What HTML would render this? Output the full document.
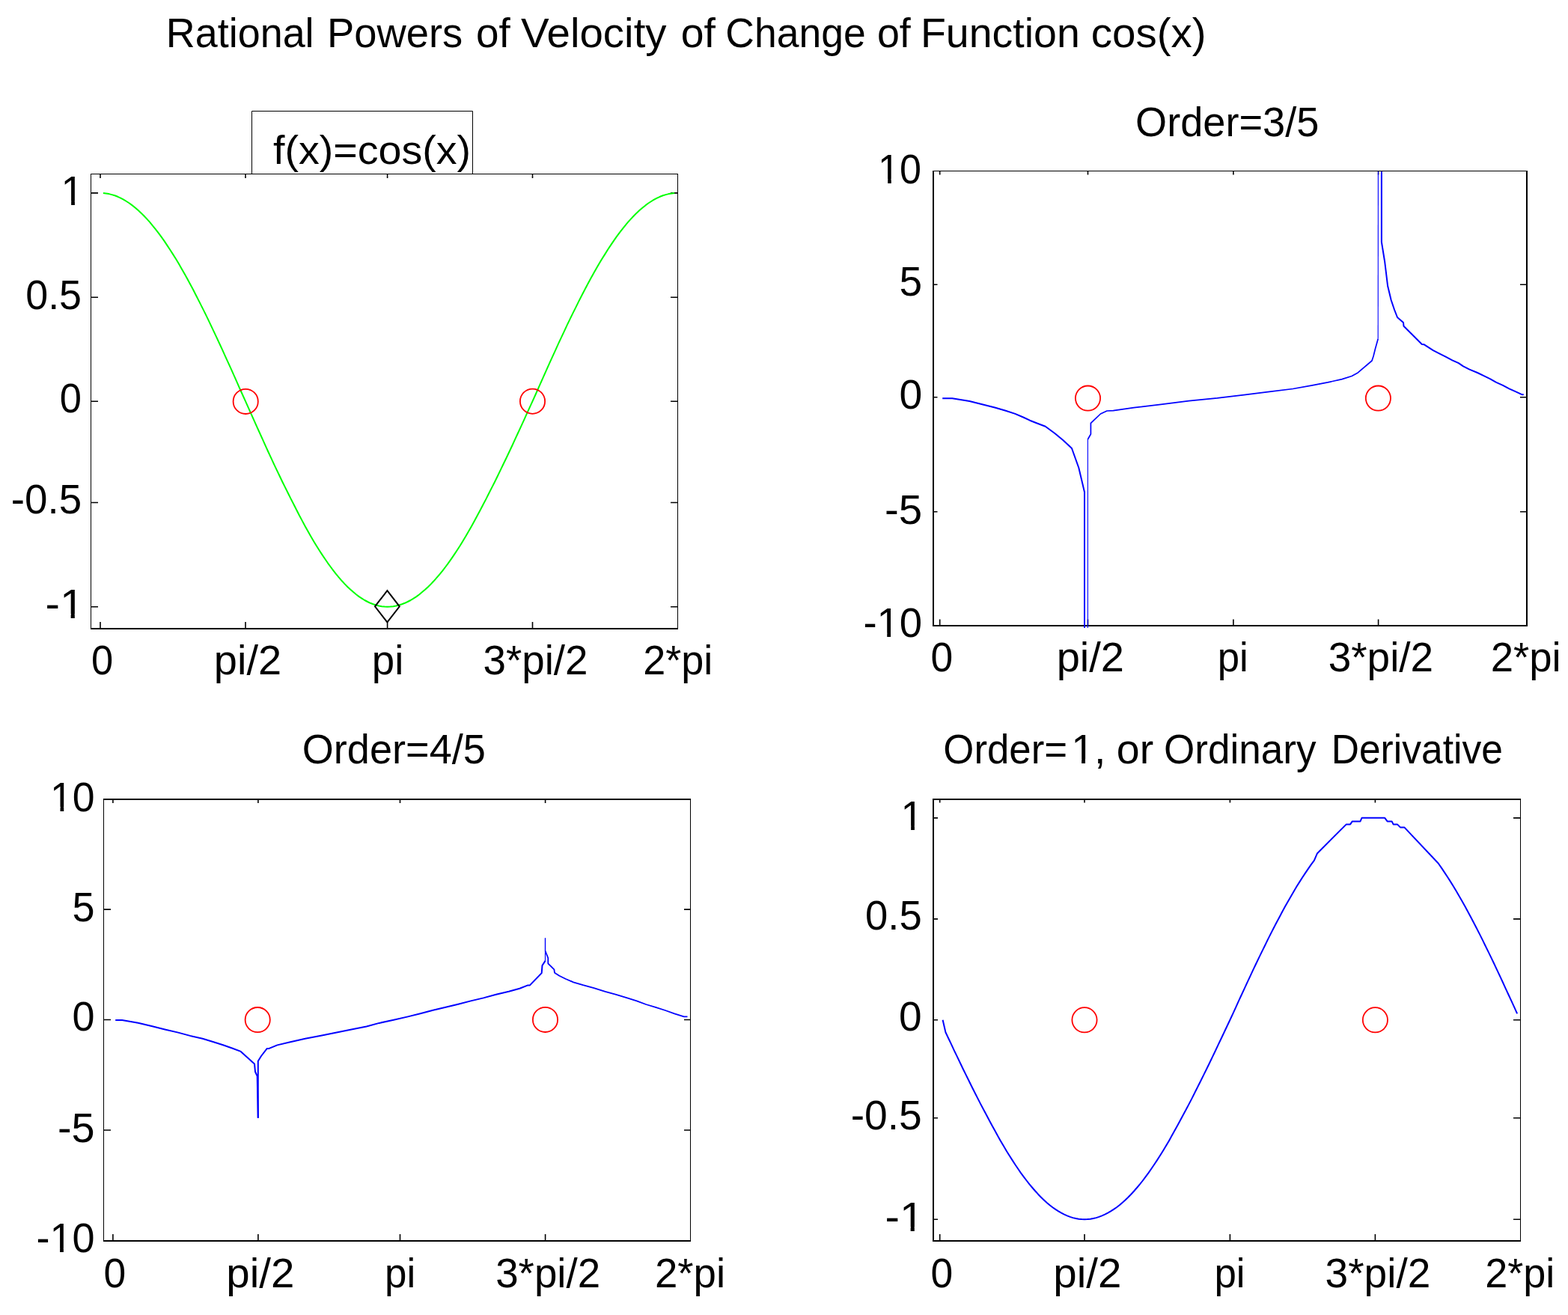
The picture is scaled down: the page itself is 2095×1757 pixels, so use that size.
<!DOCTYPE html>
<html><head><meta charset="utf-8"><title>Rational Powers of Velocity of Change of Function cos(x)</title>
<style>html,body{margin:0;padding:0;background:#fff;overflow:hidden}svg{display:block}
text{font-family:"Liberation Sans", Arial, sans-serif;fill:#000}</style></head>
<body><svg width="2095" height="1757" viewBox="0 0 2095 1757">
<rect width="2095" height="1757" fill="#fff"/>
<g fill="#000">
<rect x="121" y="232" width="785" height="1"/>
<rect x="121" y="839" width="785" height="2"/>
<rect x="121" y="232" width="1" height="609"/>
<rect x="905" y="232" width="1" height="609"/>
</g>
<path d="M134.0 839V831M134.0 233V238M328.0 839V831M328.0 233V238M517.6 839V831M517.6 233V238M711.5 839V831M711.5 233V238M121 810.7H131M906 810.7H896M121 671.5H131M906 671.5H896M121 536.2H131M906 536.2H896M121 397.3H131M906 397.3H896M121 257.9H131M906 257.9H896" stroke="#000" stroke-width="1.6" fill="none"/>
<g fill="#000">
<rect x="1246" y="228" width="795" height="1"/>
<rect x="1246" y="835" width="795" height="2"/>
<rect x="1246" y="228" width="2" height="609"/>
<rect x="2039" y="228" width="2" height="609"/>
</g>
<path d="M1255.7 835V827.5M1255.7 229V233.5M1453.5 835V827.5M1453.5 229V233.5M1647.9 835V827.5M1647.9 229V233.5M1841.6 835V827.5M1841.6 229V233.5M1246 683.8H1252.5M2041 683.8H2031M1246 530.7H1252.5M2041 530.7H2031M1246 380.2H1252.5M2041 380.2H2031" stroke="#000" stroke-width="1.6" fill="none"/>
<g fill="#000">
<rect x="138" y="1067" width="785" height="2"/>
<rect x="138" y="1657" width="785" height="2"/>
<rect x="138" y="1067" width="1" height="592"/>
<rect x="922" y="1067" width="1" height="592"/>
</g>
<path d="M150.9 1657V1649M150.9 1069V1073M344.9 1657V1649M344.9 1069V1073M534.5 1657V1649M534.5 1069V1073M728.6 1657V1649M728.6 1069V1073M138 1510.0H148M923 1510.0H914M138 1362.5H148M923 1362.5H914M138 1215.1H148M923 1215.1H914" stroke="#000" stroke-width="1.6" fill="none"/>
<g fill="#000">
<rect x="1246" y="1067" width="786" height="2"/>
<rect x="1246" y="1657" width="786" height="2"/>
<rect x="1246" y="1067" width="2" height="592"/>
<rect x="2031" y="1067" width="1" height="592"/>
</g>
<path d="M1255.7 1657V1649M1255.7 1069V1072.5M1449.0 1657V1649M1449.0 1069V1072.5M1643.4 1657V1649M1643.4 1069V1072.5M1837.4 1657V1649M1837.4 1069V1072.5M1246 1629.2H1253M2032 1629.2H2022M1246 1493.8H1253M2032 1493.8H2022M1246 1362.8H1253M2032 1362.8H2022M1246 1227.9H1253M2032 1227.9H2022M1246 1092.9H1253M2032 1092.9H2022" stroke="#000" stroke-width="1.6" fill="none"/>
<path d="M137.9 258.0 L141.8 258.5 L145.6 259.1 L149.5 260.1 L153.4 261.3 L157.3 262.8 L161.2 264.6 L165.0 266.7 L168.9 269.0 L172.8 271.5 L176.7 274.4 L180.6 277.5 L184.4 280.8 L188.3 284.4 L192.2 288.3 L196.1 292.4 L200.0 296.7 L203.8 301.3 L207.7 306.1 L211.6 311.1 L215.5 316.4 L219.4 321.9 L223.2 327.6 L227.1 333.5 L231.0 339.6 L234.9 345.8 L238.8 352.3 L242.6 359.0 L246.5 365.8 L250.4 372.8 L254.3 380.0 L258.2 387.3 L262.0 394.8 L265.9 402.4 L269.8 410.1 L273.7 417.9 L277.6 425.9 L281.4 433.9 L285.3 442.1 L289.2 450.4 L293.1 458.7 L297.0 467.1 L300.8 475.6 L304.7 484.1 L308.6 492.7 L312.5 501.4 L316.4 510.1 L320.2 518.8 L324.1 527.5 L328.0 536.2 L331.8 544.7 L335.6 553.2 L339.4 561.7 L343.2 570.1 L347.0 578.5 L350.8 586.9 L354.5 595.2 L358.3 603.5 L362.1 611.7 L365.9 619.8 L369.7 627.9 L373.5 635.8 L377.3 643.7 L381.1 651.4 L384.9 659.0 L388.7 666.6 L392.5 674.0 L396.3 681.5 L400.0 688.8 L403.8 695.9 L407.6 702.9 L411.4 709.8 L415.2 716.4 L419.0 722.9 L422.8 729.2 L426.6 735.2 L430.4 741.1 L434.2 746.8 L438.0 752.3 L441.8 757.5 L445.6 762.6 L449.3 767.4 L453.1 771.9 L456.9 776.3 L460.7 780.4 L464.5 784.2 L468.3 787.8 L472.1 791.1 L475.9 794.2 L479.7 797.1 L483.5 799.6 L487.3 802.0 L491.1 804.0 L494.8 805.8 L498.6 807.3 L502.4 808.5 L506.2 809.5 L510.0 810.2 L513.8 810.6 L517.6 810.7 L521.5 810.6 L525.4 810.2 L529.2 809.5 L533.1 808.5 L537.0 807.3 L540.9 805.8 L544.7 804.0 L548.6 802.0 L552.5 799.6 L556.4 797.1 L560.3 794.2 L564.1 791.1 L568.0 787.8 L571.9 784.2 L575.8 780.4 L579.6 776.3 L583.5 771.9 L587.4 767.4 L591.3 762.6 L595.2 757.5 L599.0 752.3 L602.9 746.8 L606.8 741.1 L610.7 735.2 L614.6 729.2 L618.4 722.9 L622.3 716.4 L626.2 709.8 L630.1 702.9 L633.9 695.9 L637.8 688.8 L641.7 681.5 L645.6 674.0 L649.5 666.6 L653.3 659.0 L657.2 651.4 L661.1 643.7 L665.0 635.8 L668.8 627.9 L672.7 619.8 L676.6 611.7 L680.5 603.5 L684.4 595.2 L688.2 586.9 L692.1 578.5 L696.0 570.1 L699.9 561.7 L703.7 553.2 L707.6 544.7 L711.5 536.2 L715.4 527.5 L719.2 518.8 L723.1 510.1 L727.0 501.4 L730.9 492.7 L734.7 484.1 L738.6 475.6 L742.5 467.1 L746.3 458.7 L750.2 450.4 L754.1 442.1 L757.9 433.9 L761.8 425.9 L765.7 417.9 L769.6 410.1 L773.4 402.4 L777.3 394.8 L781.2 387.3 L785.0 380.0 L788.9 372.8 L792.8 365.8 L796.6 359.0 L800.5 352.3 L804.4 345.8 L808.3 339.6 L812.1 333.5 L816.0 327.6 L819.9 321.9 L823.7 316.4 L827.6 311.1 L831.5 306.1 L835.3 301.3 L839.2 296.7 L843.1 292.4 L847.0 288.3 L850.8 284.4 L854.7 280.8 L858.6 277.5 L862.4 274.4 L866.3 271.5 L870.2 269.0 L874.0 266.7 L877.9 264.6 L881.8 262.8 L885.7 261.3 L889.5 260.1 L893.4 259.1 L897.3 258.5 L901.1 258.0" stroke="#00ff00" stroke-width="2.0" fill="none" stroke-linejoin="round"/>
<path d="M1259.6 1362.8 L1263.4 1379.3 L1267.3 1387.5 L1271.2 1395.6 L1275.0 1403.8 L1278.9 1411.9 L1282.8 1420.0 L1286.6 1428.0 L1290.5 1435.9 L1294.4 1443.8 L1298.2 1451.5 L1302.1 1459.2 L1306.0 1466.9 L1309.8 1474.4 L1313.7 1481.7 L1317.6 1489.0 L1321.4 1496.2 L1325.3 1503.5 L1329.2 1510.6 L1333.0 1517.6 L1336.9 1524.4 L1340.8 1531.0 L1344.6 1537.5 L1348.5 1543.8 L1352.4 1549.9 L1356.2 1555.8 L1360.1 1561.5 L1363.9 1567.1 L1367.8 1572.4 L1371.7 1577.5 L1375.5 1582.4 L1379.4 1587.0 L1383.3 1591.5 L1387.1 1595.7 L1391.0 1599.7 L1394.9 1603.4 L1398.7 1606.9 L1402.6 1610.2 L1406.5 1613.2 L1410.3 1615.9 L1414.2 1618.4 L1418.1 1620.7 L1421.9 1622.7 L1425.8 1624.4 L1429.7 1625.9 L1433.5 1627.1 L1437.4 1628.0 L1441.3 1628.7 L1445.1 1629.1 L1449.0 1629.2 L1452.9 1629.1 L1456.8 1628.7 L1460.7 1628.0 L1464.6 1627.1 L1468.4 1625.9 L1472.3 1624.4 L1476.2 1622.7 L1480.1 1620.7 L1484.0 1618.4 L1487.9 1615.9 L1491.8 1613.2 L1495.7 1610.2 L1499.5 1606.9 L1503.4 1603.4 L1507.3 1599.7 L1511.2 1595.7 L1515.1 1591.5 L1519.0 1587.0 L1522.9 1582.4 L1526.8 1577.5 L1530.6 1572.4 L1534.5 1567.1 L1538.4 1561.5 L1542.3 1555.8 L1546.2 1549.9 L1550.1 1543.8 L1554.0 1537.5 L1557.9 1531.0 L1561.8 1524.4 L1565.6 1517.6 L1569.5 1510.6 L1573.4 1503.5 L1577.3 1496.2 L1581.2 1489.0 L1585.1 1481.7 L1589.0 1474.4 L1592.9 1466.9 L1596.7 1459.2 L1600.6 1451.5 L1604.5 1443.8 L1608.4 1435.9 L1612.3 1428.0 L1616.2 1420.0 L1620.1 1411.9 L1624.0 1403.8 L1627.8 1395.6 L1631.7 1387.5 L1635.6 1379.3 L1639.5 1371.0 L1643.4 1362.8 L1647.3 1354.3 L1651.2 1345.9 L1655.0 1337.4 L1658.9 1329.0 L1662.8 1320.6 L1666.7 1312.2 L1670.6 1303.9 L1674.4 1295.7 L1678.3 1287.5 L1682.2 1279.4 L1686.1 1271.4 L1690.0 1263.5 L1693.8 1255.6 L1697.7 1247.9 L1701.6 1240.3 L1705.5 1232.8 L1709.4 1225.5 L1713.2 1218.2 L1717.1 1211.1 L1721.0 1204.2 L1724.9 1197.4 L1728.8 1190.8 L1732.6 1184.3 L1736.5 1178.1 L1740.4 1172.0 L1744.3 1166.1 L1748.2 1160.4 L1752.0 1154.9 L1755.9 1149.6 L1760.0 1140.2 L1798.8 1101.4 L1804.1 1101.4 L1806.8 1097.4 L1817.5 1097.4 L1819.5 1092.8 L1850.2 1092.8 L1853.6 1097.4 L1859.6 1097.4 L1861.6 1101.4 L1866.9 1101.4 L1870.9 1105.4 L1876.3 1105.4 L1921.7 1153.5 L1926.5 1160.4 L1930.3 1166.1 L1934.2 1172.0 L1938.1 1178.1 L1941.9 1184.3 L1945.8 1190.8 L1949.7 1197.4 L1953.6 1204.2 L1957.4 1211.1 L1961.3 1218.2 L1965.2 1225.5 L1969.0 1232.8 L1972.9 1240.3 L1976.8 1247.9 L1980.7 1255.6 L1984.5 1263.5 L1988.4 1271.4 L1992.3 1279.4 L1996.2 1287.5 L2000.0 1295.7 L2003.9 1303.9 L2007.8 1312.2 L2011.6 1320.6 L2015.5 1329.0 L2019.4 1337.4 L2023.3 1345.9 L2027.1 1354.3" stroke="#0000ff" stroke-width="2.0" fill="none" stroke-linejoin="round"/>
<path d="M1259.2 532.2 L1272.3 532.2 L1295.3 536.0 L1312.2 540.3 L1329.1 544.5 L1343.7 548.8 L1356.3 552.9 L1367.1 557.5 L1376.0 561.7 L1385.5 565.5 L1396.7 569.8 L1409.3 579.0 L1420.5 588.3 L1432.0 599.0 L1434.5 606.0 L1437.0 613.0 L1441.3 625.0 L1445.1 641.0 L1449.0 657.4 L1449.0 839.0" stroke="#0000ff" stroke-width="2.0" fill="none" stroke-linejoin="round"/>
<path d="M1453.4 839.0 L1453.4 587.0" stroke="#0000ff" stroke-width="1.1" fill="none" stroke-linejoin="round"/>
<path d="M1453.4 587.0 L1457.4 580.0 L1457.4 565.4 L1470.4 553.0 L1479.0 549.0 L1487.4 548.7 L1515.1 544.6 L1551.1 540.3 L1588.5 535.6 L1626.4 531.9 L1662.1 527.6 L1696.0 523.4 L1727.5 519.5 L1753.3 514.9 L1774.0 510.9 L1793.1 506.6 L1806.1 502.5 L1814.3 497.9 L1833.0 482.0 L1835.0 476.0 L1837.5 466.0 L1841.2 452.8" stroke="#0000ff" stroke-width="1.7" fill="none" stroke-linejoin="round"/>
<path d="M1841.2 452.8 L1841.4 229.0" stroke="#0000ff" stroke-width="1.1" fill="none" stroke-linejoin="round"/>
<path d="M1845.9 229.0 L1845.9 323.4 L1850.2 350.0 L1854.1 382.0 L1858.7 401.0 L1863.1 414.0 L1867.0 424.0 L1875.0 431.0 L1875.5 435.8 L1899.8 460.0 L1902.4 460.2 L1914.8 468.2 L1924.5 473.1 L1932.0 476.9 L1940.4 481.3 L1948.8 485.2 L1955.0 489.4 L1963.4 493.6 L1974.0 498.0 L1982.5 502.2 L1991.2 506.4 L1999.1 510.9 L2008.0 514.8 L2016.4 519.3 L2024.8 523.2 L2033.4 527.2 L2035.8 527.2" stroke="#0000ff" stroke-width="2.0" fill="none" stroke-linejoin="round"/>
<path d="M154.2 1362.9 L163.1 1362.9 L184.6 1366.8 L203.5 1371.3 L220.3 1375.5 L237.1 1379.4 L253.9 1383.9 L270.7 1387.8 L285.4 1392.3 L298.0 1396.2 L310.8 1400.7 L321.7 1404.9 L340.0 1421.4 L341.0 1432.0 L343.7 1437.7 L344.8 1493.8" stroke="#0000ff" stroke-width="2.0" fill="none" stroke-linejoin="round"/>
<path d="M344.8 1493.8 L344.8 1417.7 L349.0 1411.0 L356.8 1400.9 L359.5 1400.9 L370.5 1396.4 L386.8 1392.5 L407.8 1387.7 L428.8 1383.7 L449.8 1379.5 L470.8 1375.3 L489.7 1371.5 L506.7 1366.9 L525.9 1362.8 L545.0 1358.4 L561.6 1354.3 L578.6 1349.8 L595.5 1345.8 L612.2 1341.7 L629.0 1337.4 L645.9 1333.4 L662.8 1328.8 L679.8 1324.8 L694.3 1320.7 L705.3 1316.4 L708.0 1316.4 L723.7 1300.1 L724.5 1290.0 L728.5 1283.9" stroke="#0000ff" stroke-width="2.0" fill="none" stroke-linejoin="round"/>
<path d="M728.5 1283.9 L728.5 1253.4" stroke="#0000ff" stroke-width="1.2" fill="none" stroke-linejoin="round"/>
<path d="M728.5 1253.4 L728.5 1270.5" stroke="#0000ff" stroke-width="1.2" fill="none" stroke-linejoin="round"/>
<path d="M728.5 1270.5 L732.3 1280.0 L732.3 1287.3 L740.4 1295.4 L741.0 1299.7 L747.3 1303.7 L755.9 1308.0 L766.0 1312.3 L778.9 1316.2 L793.5 1320.2 L808.6 1324.8 L823.2 1328.8 L838.0 1333.4 L850.7 1337.3 L863.1 1342.0 L876.0 1345.8 L888.9 1350.0 L901.1 1354.3 L913.8 1358.3 L918.5 1358.3" stroke="#0000ff" stroke-width="1.8" fill="none" stroke-linejoin="round"/>
<circle cx="328.2" cy="536.4" r="16.6" fill="none" stroke="#ff0000" stroke-width="1.8"/>
<circle cx="711.5" cy="536.2" r="16.6" fill="none" stroke="#ff0000" stroke-width="1.8"/>
<circle cx="1453.5" cy="532.1" r="16.6" fill="none" stroke="#ff0000" stroke-width="1.8"/>
<circle cx="1841.4" cy="532.1" r="16.6" fill="none" stroke="#ff0000" stroke-width="1.8"/>
<circle cx="344.2" cy="1362.6" r="16.6" fill="none" stroke="#ff0000" stroke-width="1.8"/>
<circle cx="728.5" cy="1362.4" r="16.6" fill="none" stroke="#ff0000" stroke-width="1.8"/>
<circle cx="1449" cy="1362.8" r="16.6" fill="none" stroke="#ff0000" stroke-width="1.8"/>
<circle cx="1837.4" cy="1362.8" r="16.6" fill="none" stroke="#ff0000" stroke-width="1.8"/>
<path d="M517.4 789.1999999999999L533.8 810.3L517.4 831.4L501.0 810.3Z" fill="none" stroke="#000" stroke-width="2"/>
<path d="M336.5 232V148.5H631.5V232" fill="none" stroke="#000" stroke-width="1"/>
<text transform="translate(221.80 62.50) scale(0.9803 1.009)" font-size="55">Rational</text>
<text transform="translate(437.06 62.50) scale(0.9881 1.009)" font-size="55">Powers</text>
<text transform="translate(636.00 62.50) scale(0.9977 1.009)" font-size="55">of</text>
<text transform="translate(696.00 62.50) scale(1.0265 1.009)" font-size="55">Velocity</text>
<text transform="translate(909.79 62.50) scale(1.0068 1.009)" font-size="55">of</text>
<text transform="translate(969.28 62.50) scale(0.9727 1.009)" font-size="55">Change</text>
<text transform="translate(1171.95 62.50) scale(0.9773 1.009)" font-size="55">of</text>
<text transform="translate(1229.95 62.50) scale(1.0094 1.009)" font-size="55">Function</text>
<text transform="translate(1457.84 62.50) scale(1.0278 1.009)" font-size="55">cos(x)</text>
<text transform="translate(364.99 219.00) scale(1.0113 0.99)" font-size="55">f(x)=cos(x)</text>
<text transform="translate(81.55 273.80) scale(1.0000 1.042)" font-size="54">1</text>
<g transform="translate(81.55 273.80) scale(1.0000 1.042)" fill="#fff"><rect x="2.64" y="-5.41" width="10.94" height="8.41"/><rect x="18.35" y="-5.41" width="10.65" height="8.41"/></g>
<text transform="translate(34.21 412.80) scale(0.9972 1.042)" font-size="54">0.5</text>
<text transform="translate(79.75 551.30) scale(0.9731 1.042)" font-size="54">0</text>
<text transform="translate(14.77 686.20) scale(1.0135 1.042)" font-size="54">-0.5</text>
<text transform="translate(60.51 825.80) scale(1.0815 1.042)" font-size="54">-1</text>
<g transform="translate(60.51 825.80) scale(1.0815 1.042)" fill="#fff"><rect x="20.62" y="-5.41" width="10.94" height="8.41"/><rect x="36.33" y="-5.41" width="10.65" height="8.41"/></g>
<text transform="translate(122.05 901.00) scale(0.9731 1.042)" font-size="54">0</text>
<text transform="translate(285.85 901.00) scale(1.0375 1.02)" font-size="54">pi/2</text>
<text transform="translate(496.85 901.00) scale(1.0118 1.02)" font-size="54">pi</text>
<text transform="translate(645.47 901.00) scale(1.0143 1.02)" font-size="54">3*pi/2</text>
<text transform="translate(859.20 901.00) scale(1.0000 1.02)" font-size="54">2*pi</text>
<text transform="translate(1517.07 181.90) scale(0.9756 1.01)" font-size="55.5">Order=3/5</text>
<text transform="translate(1173.08 244.50) scale(0.9642 1.042)" font-size="54">10</text>
<g transform="translate(1173.08 244.50) scale(0.9642 1.042)" fill="#fff"><rect x="2.64" y="-5.41" width="10.94" height="8.41"/><rect x="18.35" y="-5.41" width="10.65" height="8.41"/></g>
<text transform="translate(1201.46 395.00) scale(1.0192 1.042)" font-size="54">5</text>
<text transform="translate(1201.45 545.50) scale(1.0231 1.042)" font-size="54">0</text>
<text transform="translate(1181.91 699.70) scale(1.0455 1.042)" font-size="54">-5</text>
<text transform="translate(1153.38 851.30) scale(1.0095 1.042)" font-size="54">-10</text>
<g transform="translate(1153.38 851.30) scale(1.0095 1.042)" fill="#fff"><rect x="20.62" y="-5.41" width="10.94" height="8.41"/><rect x="36.33" y="-5.41" width="10.65" height="8.41"/></g>
<text transform="translate(1243.52 897.10) scale(0.9885 1.042)" font-size="54">0</text>
<text transform="translate(1411.64 897.10) scale(1.0388 1.02)" font-size="54">pi/2</text>
<text transform="translate(1626.69 897.10) scale(0.9765 1.02)" font-size="54">pi</text>
<text transform="translate(1774.67 897.10) scale(1.0173 1.02)" font-size="54">3*pi/2</text>
<text transform="translate(1991.67 897.10) scale(1.0105 1.02)" font-size="54">2*pi</text>
<text transform="translate(403.77 1019.70) scale(0.9752 1.01)" font-size="55.5">Order=4/5</text>
<text transform="translate(67.04 1083.50) scale(0.9925 1.042)" font-size="54">10</text>
<g transform="translate(67.04 1083.50) scale(0.9925 1.042)" fill="#fff"><rect x="2.64" y="-5.41" width="10.94" height="8.41"/><rect x="18.35" y="-5.41" width="10.65" height="8.41"/></g>
<text transform="translate(96.60 1231.00) scale(1.0000 1.042)" font-size="54">5</text>
<text transform="translate(96.60 1377.40) scale(1.0000 1.042)" font-size="54">0</text>
<text transform="translate(77.03 1525.90) scale(1.0341 1.042)" font-size="54">-5</text>
<text transform="translate(48.50 1673.30) scale(1.0014 1.042)" font-size="54">-10</text>
<g transform="translate(48.50 1673.30) scale(1.0014 1.042)" fill="#fff"><rect x="20.62" y="-5.41" width="10.94" height="8.41"/><rect x="36.33" y="-5.41" width="10.65" height="8.41"/></g>
<text transform="translate(138.52 1720.00) scale(0.9885 1.042)" font-size="54">0</text>
<text transform="translate(302.31 1720.00) scale(1.0462 1.02)" font-size="54">pi/2</text>
<text transform="translate(514.08 1720.00) scale(0.9794 1.02)" font-size="54">pi</text>
<text transform="translate(662.17 1720.00) scale(1.0135 1.02)" font-size="54">3*pi/2</text>
<text transform="translate(874.97 1720.00) scale(1.0116 1.02)" font-size="54">2*pi</text>
<text transform="translate(1260.35 1019.60) scale(0.9512 1.01)" font-size="55.5">Order=</text>
<text transform="translate(1431.14 1019.60) scale(1.0000 1.01)" font-size="55.5">1,</text>
<g transform="translate(1431.14 1019.60) scale(1.0000 1.01)" fill="#fff"><rect x="2.71" y="-5.56" width="11.25" height="8.56"/><rect x="18.86" y="-5.56" width="10.95" height="8.56"/></g>
<text transform="translate(1491.80 1019.60) scale(1.0000 1.01)" font-size="55.5">or</text>
<text transform="translate(1555.03 1019.60) scale(0.9565 1.01)" font-size="55.5">Ordinary</text>
<text transform="translate(1778.76 1019.60) scale(0.9285 1.01)" font-size="55.5">Derivative</text>
<text transform="translate(1203.55 1108.80) scale(1.0000 1.042)" font-size="54">1</text>
<g transform="translate(1203.55 1108.80) scale(1.0000 1.042)" fill="#fff"><rect x="2.64" y="-5.41" width="10.94" height="8.41"/><rect x="18.35" y="-5.41" width="10.65" height="8.41"/></g>
<text transform="translate(1155.98 1242.30) scale(1.0085 1.042)" font-size="54">0.5</text>
<text transform="translate(1201.06 1376.80) scale(1.0192 1.042)" font-size="54">0</text>
<text transform="translate(1136.66 1508.80) scale(1.0213 1.042)" font-size="54">-0.5</text>
<text transform="translate(1182.51 1644.80) scale(1.0815 1.042)" font-size="54">-1</text>
<g transform="translate(1182.51 1644.80) scale(1.0815 1.042)" fill="#fff"><rect x="20.62" y="-5.41" width="10.94" height="8.41"/><rect x="36.33" y="-5.41" width="10.65" height="8.41"/></g>
<text transform="translate(1243.52 1720.00) scale(0.9885 1.042)" font-size="54">0</text>
<text transform="translate(1407.32 1720.00) scale(1.0463 1.02)" font-size="54">pi/2</text>
<text transform="translate(1622.38 1720.00) scale(0.9794 1.02)" font-size="54">pi</text>
<text transform="translate(1770.56 1720.00) scale(1.0195 1.02)" font-size="54">3*pi/2</text>
<text transform="translate(1984.20 1720.00) scale(1.0012 1.02)" font-size="54">2*pi</text>
</svg></body></html>
